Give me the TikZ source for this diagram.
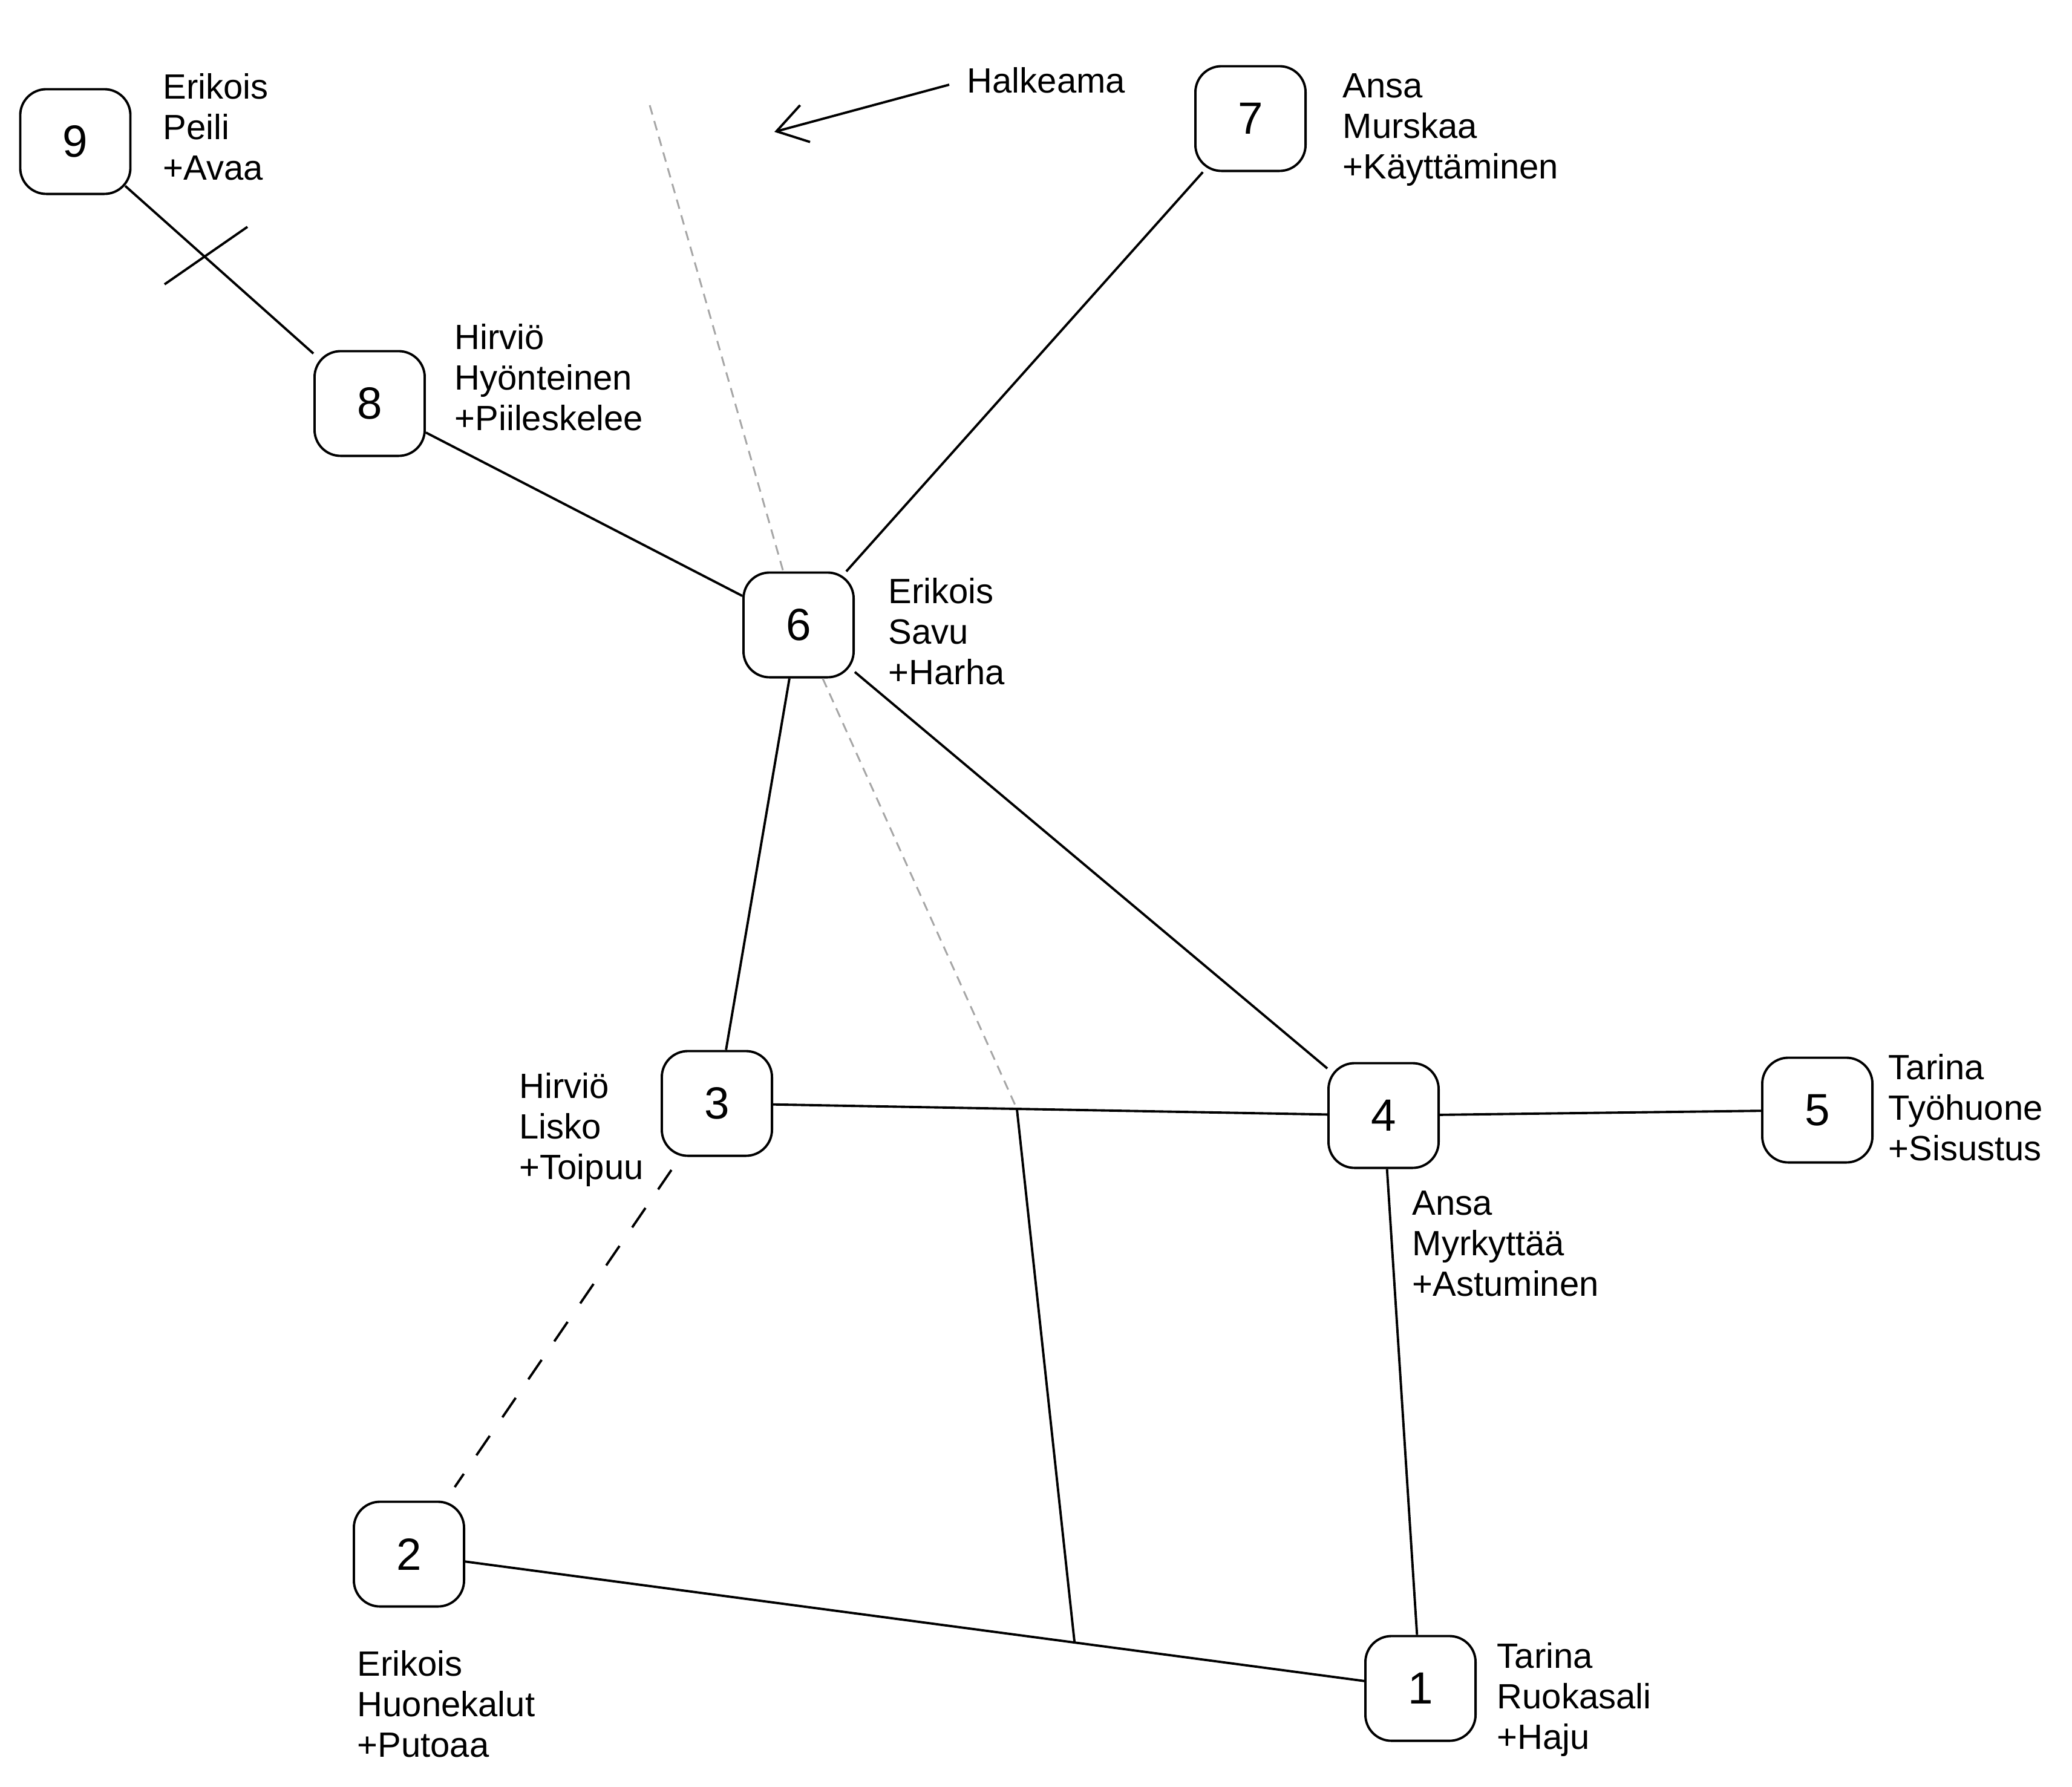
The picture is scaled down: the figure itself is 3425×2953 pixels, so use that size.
\documentclass[tikz,border=0pt]{standalone}
\usepackage{fontspec}
\setmainfont{Liberation Sans}
\usetikzlibrary{arrows.meta,calc}
\definecolor{crackgray}{HTML}{A6A6A6}
\begin{document}
\begin{tikzpicture}[x=0.01cm,y=-0.01cm,
  roomnode/.style={draw, line width=1.1pt, rounded corners=0.43cm, minimum width=1.82cm, minimum height=1.73cm, inner sep=0pt, font=\fontsize{21.2}{25}\selectfont},
  lbl/.style={anchor=north west, inner sep=0pt, align=left, font=\fontsize{16.5}{19.07}\selectfont},
  link/.style={line width=1.1pt},
  crack/.style={line width=0.85pt, draw=crackgray, dash pattern=on 0.16cm off 0.11cm},
  weak/.style={line width=1.1pt, dash pattern=on 0.39cm off 0.37cm}]
\useasboundingbox (0,0) rectangle (3425,2953);

% rooms
\node[roomnode] (n9) at (124.5,234) {9};
\node[roomnode] (n8) at (611,667) {8};
\node[roomnode] (n7) at (2067,196) {7};
\node[roomnode] (n6) at (1320,1033) {6};
\node[roomnode] (n3) at (1185,1824) {3};
\node[roomnode] (n4) at (2287,1844) {4};
\node[roomnode] (n5) at (3004,1835) {5};
\node[roomnode] (n2) at (676,2569) {2};
\node[roomnode] (n1) at (2348,2791) {1};

% labels
\node[lbl] (l9) at (269,121) {Erikois\\Peili\\+Avaa};
\node[lbl] (l8) at (751,535) {Hirviö\\Hyönteinen\\+Piileskelee};
\node[lbl] (l7) at (2219,120.5) {Ansa\\Murskaa\\+Käyttäminen};
\node[lbl] (l6) at (1468,955) {Erikois\\Savu\\+Harha};
\node[lbl] (l3) at (858,1773) {Hirviö\\Lisko\\+Toipuu};
\node[lbl] (l4) at (2334,1968) {Ansa\\Myrkyttää\\+Astuminen};
\node[lbl] (l5) at (3121,1742) {Tarina\\Työhuone\\+Sisustus};
\node[lbl] (l2) at (590,2728) {Erikois\\Huonekalut\\+Putoaa};
\node[lbl] (l1) at (2474,2715) {Tarina\\Ruokasali\\+Haju};
\node[lbl] (hal) at (1598,111) {Halkeama};

% connections
\draw[link, shorten <=-0.14cm] (n9) -- (n8);
\draw[link] (n8) -- (n6);
\draw[link] (n7) -- (n6);
\draw[link] (n6) -- (n3);
\draw[link] (n6) -- (n4);
\draw[link] (n3) -- (n4);
\draw[link] (n4) -- (n5);
\draw[link] (n4) -- (n1);
\draw[link] (n2) -- (n1);
\draw[weak, shorten <=0.26cm, shorten >=0.27cm] (n3) -- (n2);

\coordinate (ja) at ($(n3)!0.450!(n4)$);
\coordinate (jb) at ($(n2)!0.658!(n1)$);
\draw[link] (ja) -- (jb);

% crack
\coordinate (ctop) at (1074,174);
\draw[crack] (ctop) -- (n6);
\draw[crack] (n6) -- (ja);

% blocked mark
\coordinate (t1) at (272,470);
\coordinate (t2) at (409,375);
\draw[link] (t1) -- (t2);

% pointer
\coordinate (hs) at (1569,140);
\coordinate (ht) at (1280,218);
\draw[link, -{Straight Barb[length=4.9mm,width=6.3mm]}] (hs) -- (ht);
\end{tikzpicture}
\end{document}
